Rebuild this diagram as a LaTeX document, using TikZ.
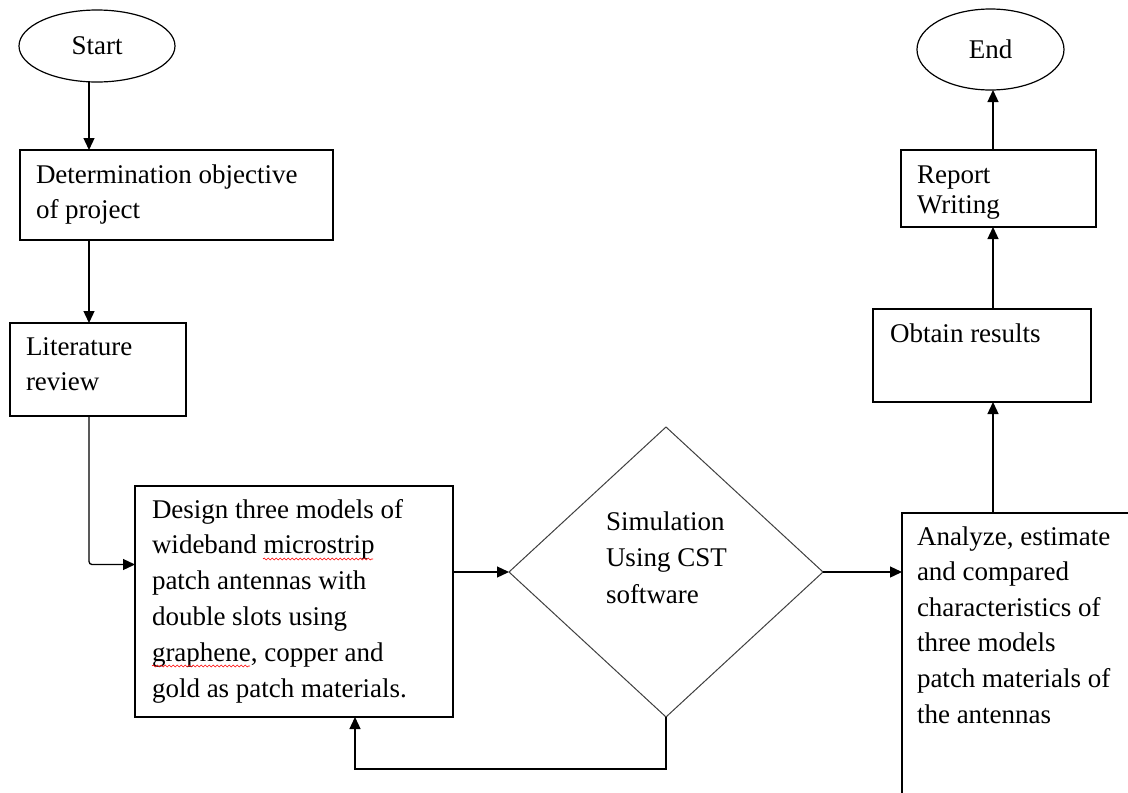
\documentclass[tikz,border=0pt]{standalone}
\usepackage{fontspec}
\setmainfont{Liberation Serif}
\usetikzlibrary{shapes.geometric,arrows.meta,decorations.pathmorphing}
\begin{document}
\begin{tikzpicture}[x=1pt,y=-1pt,
  every node/.style={inner sep=0pt,outer sep=0pt},
  box/.style={draw=black,line width=1.3pt,rectangle,anchor=north west},
  oval/.style={draw=black,line width=1.2pt,ellipse},
  decis/.style={draw=black!75,line width=1pt,diamond},
  txt/.style={anchor=base west,align=left,font=\fontsize{27}{35}\selectfont},
  arr/.style={draw=black,line width=1.3pt,-{Triangle[length=12pt,width=11pt]}},
  conn/.style={draw=black,line width=1.3pt},
  squig/.style={draw=red,line width=0.6pt,decorate,decoration={snake,segment length=4pt,amplitude=1pt}}]
\useasboundingbox (0,0) rectangle (1128,793);
\fill[white] (0,0) rectangle (1128,793);

% nodes (text nodes are anchored at the baseline of their LAST line)
\node[oval,minimum width=156pt,minimum height=72pt,font=\fontsize{27}{30}\selectfont] (start) at (97,46) {Start};
\node[oval,minimum width=147pt,minimum height=81pt,font=\fontsize{27}{30}\selectfont] (end) at (990.5,49.5) {End};

\node[box,minimum width=313pt,minimum height=90pt] (det) at (20,150) {};
\node[txt] (detT) at (36,218) {Determination objective\\of project};

\node[box,minimum width=176pt,minimum height=93pt] (lit) at (10,323) {};
\node[txt] (litT) at (26,390) {Literature\\review};

\node[box,minimum width=318pt,minimum height=231pt] (design) at (135,486) {};
\node[txt,font=\fontsize{27}{35.8}\selectfont] (designT) at (152,697) {Design three models of\\wideband microstrip\\patch antennas with\\double slots using\\graphene, copper and\\gold as patch materials.};

\node[decis,minimum width=314pt,minimum height=290pt] (sim) at (666,572) {};
\node[txt,font=\fontsize{27}{36.5}\selectfont] (simT) at (606,603) {Simulation\\Using CST\\software};

\node[rectangle,minimum width=260pt,minimum height=320pt,anchor=north west] (ana) at (902,513) {};
\draw[conn] (ana.south west) -- (ana.north west) -- (ana.north east);
\node[txt,font=\fontsize{27}{35.6}\selectfont] (anaT) at (917,723) {Analyze, estimate\\and compared\\characteristics of\\three models\\patch materials of\\the antennas};

\node[box,minimum width=218pt,minimum height=93pt] (obt) at (873,309) {};
\node[txt] (obtT) at (890,342) {Obtain results};

\node[box,minimum width=195pt,minimum height=77pt] (rep) at (901,150) {};
\node[txt,font=\fontsize{27}{30}\selectfont] (repT) at (917,213) {Report\\Writing};

% helper coordinates
\coordinate (xl) at (89,0);
\coordinate (xr) at (993,0);
\coordinate (xf) at (355,0);

% connectors
\draw[arr] (xl |- start.south) -- (xl |- det.north);
\draw[arr] (xl |- det.south) -- (xl |- lit.north);
\draw[arr,rounded corners=3pt] (xl |- lit.south) -- ([yshift=37pt]xl |- design.west) -- ([yshift=37pt]design.west);
\draw[arr] (design.east |- sim.west) -- (sim.west);
\draw[arr] (sim.east) -- (sim.east -| ana.west);
\draw[arr] (sim.south) -- ++(0,52) -| (xf |- design.south);
\draw[arr] (xr |- ana.north) -- (xr |- obt.south);
\draw[arr] (xr |- obt.north) -- (xr |- rep.south);
\draw[arr] (xr |- rep.north) -- (xr |- end.south);

% spell-check squiggles
\draw[squig] (263,559) -- (373,559);
\draw[squig] (152,666) -- (250,666);
\end{tikzpicture}
\end{document}
